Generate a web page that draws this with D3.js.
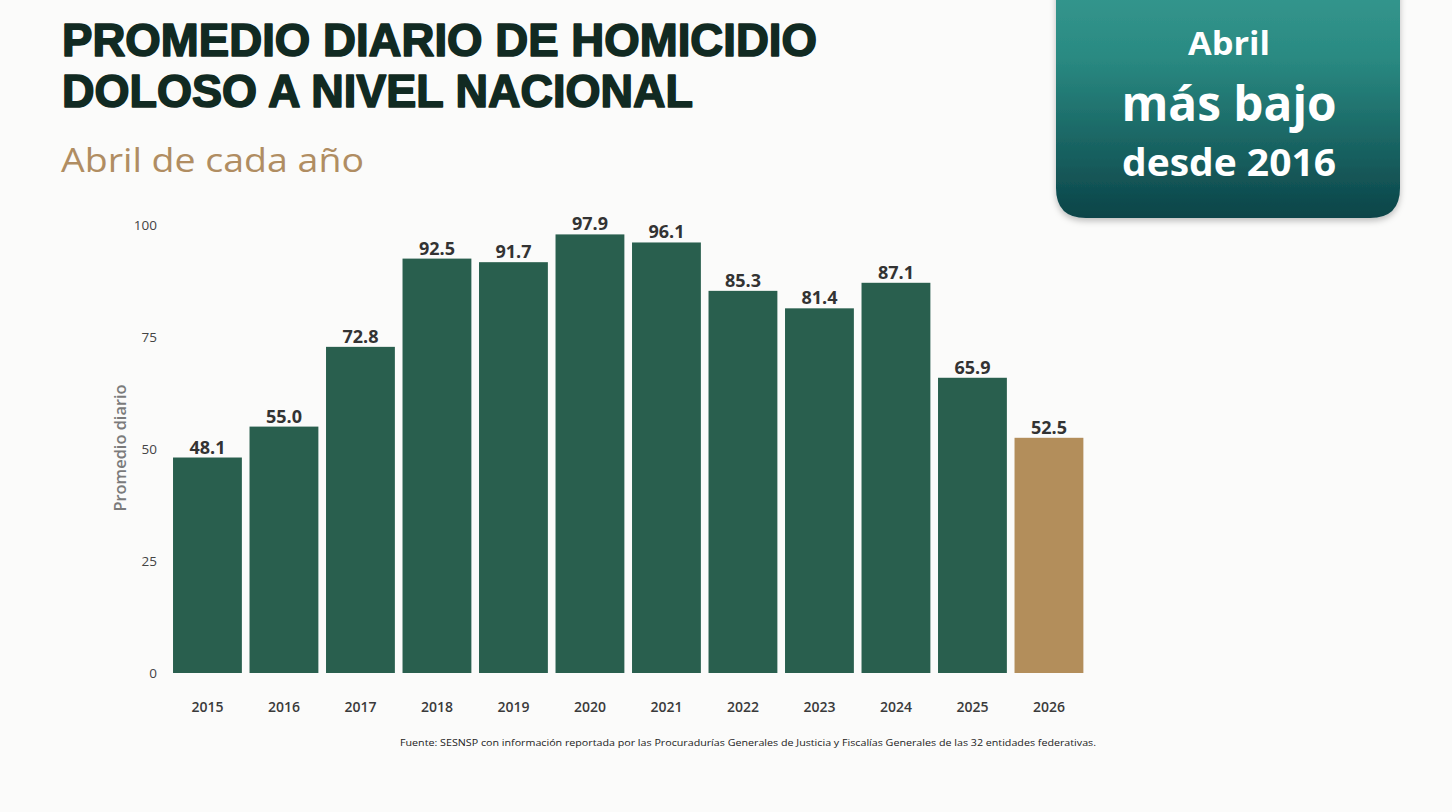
<!DOCTYPE html>
<html><head><meta charset="utf-8">
<script src="https://cdn.jsdelivr.net/npm/d3@7"></script>
<style>
html,body{margin:0;padding:0;background:#fbfbfa;}
svg{display:block;}
</style></head>
<body>
<script>
const years = ["2015","2016","2017","2018","2019","2020","2021","2022","2023","2024","2025","2026"];
const values = [48.1,55.0,72.8,92.5,91.7,97.9,96.1,85.3,81.4,87.1,65.9,52.5];
const yTicks = [0,25,50,75,100];
const highlightYear = "2026";

const W=1452,H=812;
const svg=d3.select("body").append("svg").attr("width",W).attr("height",H);

const defs=svg.append("defs");
const g=defs.append("linearGradient").attr("id","boxg").attr("x1",0).attr("y1",0).attr("x2",0).attr("y2",1);
g.append("stop").attr("offset","0%").attr("stop-color","#379a91");
g.append("stop").attr("offset","35%").attr("stop-color","#2a8a82");
g.append("stop").attr("offset","100%").attr("stop-color","#0b4448");
const f=defs.append("filter").attr("id","sh").attr("x","-10%").attr("y","-10%").attr("width","120%").attr("height","130%");
f.append("feDropShadow").attr("dx",0).attr("dy",3).attr("stdDeviation",3).attr("flood-color","#000").attr("flood-opacity",0.25);

svg.append("rect").attr("width",W).attr("height",H).attr("fill","#fbfbfa");

// Title
const t=svg.append("g").attr("font-family","'Liberation Sans', Arial, sans-serif").attr("font-weight",700)
  .attr("fill","#112a22").attr("stroke","#112a22").attr("stroke-width",1.6).attr("stroke-linejoin","round").attr("font-size",45.5);
t.append("text").attr("x",62).attr("y",56).attr("textLength",755).attr("lengthAdjust","spacingAndGlyphs").text("PROMEDIO DIARIO DE HOMICIDIO");
t.append("text").attr("x",62).attr("y",107).attr("textLength",631).attr("lengthAdjust","spacingAndGlyphs").text("DOLOSO A NIVEL NACIONAL");
svg.append("text").attr("x",61).attr("y",172).attr("font-family","'Open Sans', sans-serif").attr("font-weight",400)
  .attr("font-size",33).attr("fill","#b08d62").attr("textLength",303).attr("lengthAdjust","spacingAndGlyphs").text("Abril de cada año");

// Box
const bx=1056,bw=344,btop=-30,bbot=218,r=30;
svg.append("path").attr("filter","url(#sh)").attr("fill","url(#boxg)")
  .attr("d",`M${bx},${btop} H${bx+bw} V${bbot-r} Q${bx+bw},${bbot} ${bx+bw-r},${bbot} H${bx+r} Q${bx},${bbot} ${bx},${bbot-r} Z`);
const bt=svg.append("g").attr("font-family","'Open Sans', sans-serif").attr("font-weight",700).attr("fill","#fff").attr("text-anchor","middle");
bt.append("text").attr("x",1229).attr("y",55).attr("font-size",33).attr("textLength",82).attr("lengthAdjust","spacingAndGlyphs").text("Abril");
bt.append("text").attr("x",1229).attr("y",121).attr("font-size",48).attr("textLength",215).attr("lengthAdjust","spacingAndGlyphs").text("más bajo");
bt.append("text").attr("x",1229).attr("y",176).attr("font-size",38).attr("textLength",214).attr("lengthAdjust","spacingAndGlyphs").text("desde 2016");

// Chart
const x=d3.scaleBand().domain(years).range([169.2,1087.2]).paddingInner(0.1).paddingOuter(0.05);
const y=d3.scaleLinear().domain([0,100]).range([673,225]);

const yAxis=svg.append("g").attr("transform","translate(157,0)")
  .call(d3.axisLeft(y).tickValues(yTicks).tickSize(0).tickPadding(0));
yAxis.select(".domain").remove();
yAxis.selectAll("text").attr("font-family","'Open Sans', sans-serif").attr("font-size",13.5).attr("fill","#444");

const xAxis=svg.append("g").attr("transform","translate(0,673)")
  .call(d3.axisBottom(x).tickSize(0).tickPadding(29));
xAxis.select(".domain").remove();
xAxis.selectAll("text").attr("font-family","'Open Sans', sans-serif").attr("font-weight",600).attr("font-size",14).attr("fill","#3a3a3a");

svg.append("text").attr("transform","translate(126,448) rotate(-90)").attr("text-anchor","middle")
  .attr("font-family","'Open Sans', sans-serif").attr("font-weight",600).attr("font-size",16).attr("fill","#7a7a7a")
  .attr("textLength",127).attr("lengthAdjust","spacingAndGlyphs").text("Promedio diario");

const data=years.map((d,i)=>({year:d,value:values[i]}));
svg.append("g").selectAll("rect").data(data).join("rect")
  .attr("x",d=>x(d.year)).attr("width",x.bandwidth())
  .attr("y",d=>y(d.value)).attr("height",d=>y(0)-y(d.value))
  .attr("fill",d=>d.year===highlightYear?"#b38e5b":"#295f4e");

svg.append("g").selectAll("text").data(data).join("text")
  .attr("x",d=>x(d.year)+x.bandwidth()/2).attr("y",d=>y(d.value)-4)
  .attr("text-anchor","middle").attr("font-family","'Open Sans', sans-serif").attr("font-weight",700)
  .attr("font-size",18).attr("fill","#333").text(d=>d.value.toFixed(1));

svg.append("text").attr("x",400).attr("y",746).attr("font-family","'Open Sans', sans-serif").attr("font-size",9.5)
  .attr("fill","#222").attr("textLength",696).attr("lengthAdjust","spacingAndGlyphs")
  .text("Fuente: SESNSP con información reportada por las Procuradurías Generales de Justicia y Fiscalías Generales de las 32 entidades federativas.");
</script>
</body></html>
